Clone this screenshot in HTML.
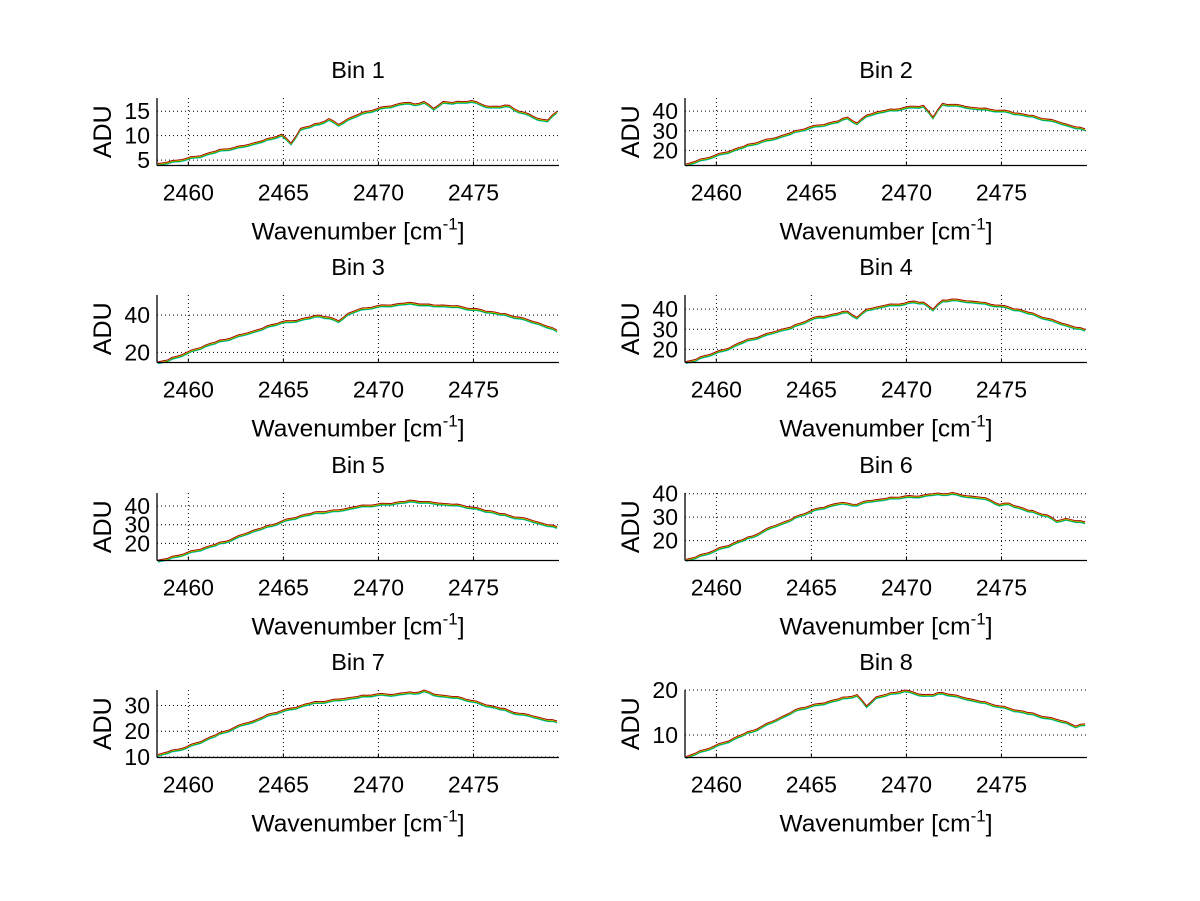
<!DOCTYPE html>
<html><head><meta charset="utf-8"><style>
body{margin:0;background:#fff}
svg{display:block;font-family:"Liberation Sans",sans-serif}
</style></head><body>
<svg id="fig" width="1200" height="901" xmlns="http://www.w3.org/2000/svg"></svg>
<script>
const xStart = 2458.4, xStep = 0.5;
const xTicks = [2460, 2465, 2470, 2475];
const titles = ["Bin 1","Bin 2","Bin 3","Bin 4","Bin 5","Bin 6","Bin 7","Bin 8"];
const yRanges = [[3.9,17.7],[12.3,46.7],[14.6,50.8],[13.5,47],[10.8,47],[11.5,40.3],[9.8,36],[5,20]];
const yTicks = [[5,10,15],[20,30,40],[20,40],[20,30,40],[20,30,40],[20,30,40],[10,20,30],[10,20]];
const bin1 = [4.3,4.6,5.0,5.4,5.8,6.3,6.8,7.3,7.6,8.0,8.5,9.0,9.6,10.3,8.5,11.5,12.0,12.6,13.5,12.3,13.5,14.3,15.0,15.5,16.0,16.4,16.8,16.5,17.0,15.6,17.0,16.8,17.0,17.2,16.5,16.0,16.0,16.2,15.0,14.5,13.5,13.2,15.0];
const bin2 = [13,14.5,16,17.5,19,20.5,22,23.5,25,26,27.5,29,30.5,32,33,34,35,37,34,38,39.5,40.5,41,42,42.5,43,37,44,43.5,43,42,41.5,41,40.5,40,39,38,37,36,35,33.5,32,31];
const bin3 = [15,16,18,20,22,24,25.5,27,28.5,30,31.5,33,35,36.5,37,38,39,40,39,37,41,43,44,45,45.5,46,46.5,46.5,46,45.5,45.5,45,44.5,43.5,43,42,41,40,39,37.5,36,34,32];
const bin4 = [14,15,17,18.5,20,22,24,25.5,27,28.5,30,31,33,35,36.5,37,38,39,36,40,41,42,42.5,43,44,43.5,40,44.5,45,44.5,44,43.5,42.5,42,41,40,38.5,37,35.5,34,32.5,31,30];
const bin5 = [11,12,13.5,15,16.5,18,19.5,21,23,25,27,28.5,30,32,33.5,35,36,37,37.5,38,39,40,40.5,41,41.5,42,42.5,43,42.5,42,41.5,41,40.5,39.5,38.5,37.5,36,35,34,33,31.5,30,29];
const bin6 = [12,13,14.5,16,17.5,19,20.5,22,24,26,27.5,29,31,32.5,34,35,36,36,35.5,37,37.5,38,38.5,39,39,39.5,40,40,40.5,39.5,39,38.5,37.5,35.5,36,34.5,33,32,31,28.5,29.5,28.5,28];
const bin7 = [11,12,13,14,15.5,17,18.5,20,21.5,23,24,25.5,27,28,29,30,31,31.5,32,32.5,33,33.5,34,34.5,34.5,34.5,35,35,36,34.5,34,33.5,33,32,31,30,29,28,27,26.5,25.5,24.5,24];
const bin8 = [5.2,6,6.8,7.6,8.4,9.3,10.2,11,12,13,14,15,16,16.5,17,17.5,18,18.5,19,16.5,18.5,19,19.5,20,19.5,19,19,19.5,19,18.5,18,17.5,17,16.5,16,15.5,15,14.5,14,13.5,13,12,12.5];
const fine = [0,0.3,-0.2,0.25,-0.3,0.1,0.35,-0.25,0.2,-0.1];
const bins = [bin1,bin2,bin3,bin4,bin5,bin6,bin7,bin8];
const seriesOffsets = [-0.03,-0.02,-0.01,0];
const seriesColors = ["#00c0c0","#00a000","#e0c000","#a00000"];

const NS="http://www.w3.org/2000/svg";
const svg=document.getElementById('fig');
function mk(tag,attrs,parent){const e=document.createElementNS(NS,tag);for(const k in attrs)e.setAttribute(k,attrs[k]);(parent||svg).appendChild(e);return e;}
const colX=[157,685], rowY=[98,295,493,690], W=402, H=67.5;
bins.forEach((data,b)=>{
  const col=b%2,row=Math.floor(b/2);
  const x0=colX[col],y0=rowY[row];
  const [ymin,ymax]=yRanges[b];
  const xmin=2458.35,xmax=2479.5;
  const sx=v=>x0+(v-xmin)/(xmax-xmin)*W;
  const sy=v=>y0+H-(v-ymin)/(ymax-ymin)*H;
  const g=mk('g',{});
  
  
  xTicks.forEach(t=>{
    const l=mk('line',{x1:sx(t),x2:sx(t),y1:y0,y2:y0+H,stroke:'#000','stroke-width':1,'stroke-dasharray':'1,3'},g);
    
    
    mk('line',{x1:sx(t),x2:sx(t),y1:y0+H,y2:y0+H-4,stroke:'#000'},g);
    const tx=mk('text',{x:sx(t),y:y0+H+35,'font-size':23,'text-anchor':'middle'},g);
    tx.textContent=t;
    
    
  });
  yTicks[b].forEach(t=>{
    const l=mk('line',{x1:x0,x2:x0+W,y1:sy(t),y2:sy(t),stroke:'#000','stroke-width':1,'stroke-dasharray':'1,3'},g);
    
    
    const tx=mk('text',{x:x0-7,y:sy(t)+8,'font-size':23,'text-anchor':'end'},g);
    tx.textContent=t;
    
    
  });
  seriesOffsets.forEach((off,s)=>{
    let pts=[];
    data.forEach((v,i)=>{
      pts.push(sx(xStart+i*xStep).toFixed(1)+','+sy(v+off*(ymax-ymin)).toFixed(1));
      if(i<data.length-1){
        const vm=(v+data[i+1])/2+fine[i%fine.length]*(ymax-ymin)/30;
        pts.push(sx(xStart+(i+0.5)*xStep).toFixed(1)+','+sy(vm+off*(ymax-ymin)).toFixed(1));
      }
    });
    const p=mk('polyline',{points:pts.join(' '),fill:'none',stroke:seriesColors[s],'stroke-width':0.9},g);
    
    
  });
  mk('line',{x1:x0,x2:x0,y1:y0,y2:y0+H,stroke:'#000','stroke-width':1.3},g);
  mk('line',{x1:x0,x2:x0+W,y1:y0+H,y2:y0+H,stroke:'#000','stroke-width':1.3},g);
  const ti=mk('text',{x:x0+W/2,y:y0-20,'font-size':23.5,'text-anchor':'middle'},g);
  ti.textContent=titles[b];
  
  
  const yl=mk('text',{x:0,y:0,'font-size':25,'text-anchor':'middle',transform:`translate(${x0-46},${y0+H/2}) rotate(-90)`},g);
  yl.textContent='ADU';
  
  
  const xl=mk('text',{x:x0+W/2,y:y0+H+74,'font-size':24.5,'text-anchor':'middle'},g);
  
  
  const t1=mk('tspan',{},xl);t1.textContent='Wavenumber [cm';
  const t2=mk('tspan',{dy:-10,'font-size':17},xl);t2.textContent='-1';
  const t3=mk('tspan',{dy:10},xl);t3.textContent=']';
});
</script>
</body></html>
